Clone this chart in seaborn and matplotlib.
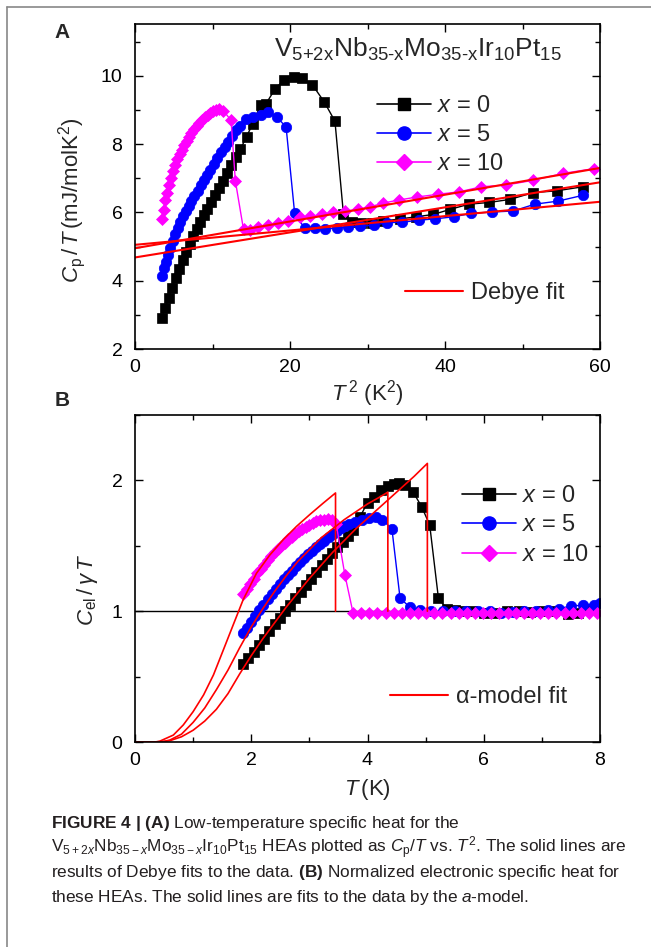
import matplotlib
matplotlib.use("Agg")
import matplotlib.pyplot as plt
import seaborn as sns
import pandas as pd
from matplotlib.lines import Line2D
from matplotlib.ticker import MultipleLocator

# ---------------- Panel A data: Cp/T vs T^2 ----------------
a0_x = [3.44, 3.9, 4.35, 4.8, 5.25, 5.7, 6.15, 6.6, 7.05, 7.5, 7.95, 8.4, 8.85, 9.3, 9.8,
        10.3, 10.8, 11.3, 11.85, 12.4, 13.0, 13.6, 14.4, 15.2, 16.2, 16.9, 18.1, 19.2, 20.5,
        21.6, 22.9, 24.4, 25.8, 26.9, 28.0, 29.2, 30.6, 32.0, 34.2, 36.3, 38.5, 40.7, 43.1,
        45.7, 48.4, 51.4, 54.4, 57.8]
a0_y = [2.90, 3.20, 3.50, 3.80, 4.08, 4.35, 4.60, 4.85, 5.08, 5.30, 5.52, 5.72, 5.92, 6.10, 6.30,
        6.50, 6.72, 6.92, 7.14, 7.38, 7.62, 7.85, 8.22, 8.60, 9.15, 9.18, 9.62, 9.87, 9.97,
        9.92, 9.73, 9.24, 8.67, 5.94, 5.72, 5.68, 5.70, 5.74, 5.81, 5.87, 5.94, 6.09, 6.24,
        6.29, 6.38, 6.58, 6.63, 6.75]

a5_x = [3.46, 3.72, 4.0, 4.28, 4.58, 4.88, 5.2, 5.52, 5.86, 6.2, 6.55, 6.92, 7.29, 7.67, 8.07,
        8.47, 8.88, 9.3, 9.73, 10.18, 10.63, 11.1, 11.56, 12.04, 12.53, 13.03, 13.54, 14.3,
        15.2, 16.2, 17.2, 18.3, 19.5, 20.6, 21.9, 23.2, 24.5, 26.0, 27.5, 29.0, 30.8, 32.5,
        34.4, 36.6, 38.7, 41.1, 43.4, 46.0, 48.8, 51.6, 54.6, 57.8]
a5_y = [4.14, 4.36, 4.56, 4.76, 4.96, 5.16, 5.36, 5.55, 5.73, 5.89, 6.04, 6.19, 6.33, 6.48, 6.63,
        6.80, 6.94, 7.09, 7.24, 7.42, 7.59, 7.76, 7.91, 8.06, 8.24, 8.40, 8.54, 8.72,
        8.80, 8.84, 8.93, 8.80, 8.49, 5.97, 5.53, 5.54, 5.51, 5.54, 5.57, 5.60, 5.62, 5.70,
        5.71, 5.77, 5.81, 5.87, 5.97, 6.01, 6.04, 6.24, 6.33, 6.50]

a10_x = [3.46, 3.68, 3.92, 4.16, 4.41, 4.67, 4.93, 5.2, 5.48, 5.76, 6.05, 6.35, 6.66, 6.97,
         7.29, 7.62, 7.95, 8.29, 8.64, 9.0, 9.36, 9.74, 10.1, 10.5, 10.9, 11.4, 12.4, 12.95,
         14.0, 14.8, 15.9, 17.2, 18.5, 19.8, 21.3, 22.6, 24.1, 25.6, 27.1, 28.8, 30.3, 32.0,
         34.0, 36.4, 39.1, 41.8, 44.7, 47.9, 51.4, 55.2, 59.2]
a10_y = [5.80, 6.08, 6.35, 6.58, 6.80, 7.00, 7.20, 7.38, 7.55, 7.70, 7.84, 7.97, 8.10, 8.21,
         8.32, 8.43, 8.53, 8.62, 8.70, 8.78, 8.85, 8.91, 8.98, 9.00, 9.02, 8.98, 8.69, 6.92,
         5.50, 5.48, 5.56, 5.63, 5.68, 5.76, 5.85, 5.88, 5.94, 6.00, 6.04, 6.09, 6.16, 6.27,
         6.36, 6.45, 6.53, 6.60, 6.75, 6.80, 6.94, 7.14, 7.28]

# Debye fit lines (end points at T^2 = 0 and 60)
debye_x = [0, 60]
debye0_y = [4.68, 6.88]
debye5_y = [5.05, 6.31]
debye10_y = [4.95, 7.30]

# ---------------- Panel B data: Cel/gammaT vs T ----------------
b0_x = [1.86, 1.95, 2.04, 2.13, 2.22, 2.31, 2.40, 2.49, 2.58, 2.67, 2.76, 2.85, 2.94, 3.03,
        3.12, 3.21, 3.30, 3.39, 3.48, 3.57, 3.66, 3.75, 3.87, 4.00, 4.12, 4.24, 4.35, 4.45,
        4.55, 4.65, 4.78, 4.93, 5.07, 5.22, 5.36, 5.50, 5.65, 5.80, 6.00, 6.20, 6.40, 6.60,
        6.80, 7.00, 7.20, 7.45, 7.62, 7.85]
b0_y = [0.60, 0.645, 0.69, 0.74, 0.79, 0.845, 0.90, 0.95, 1.00, 1.05, 1.10, 1.15, 1.20, 1.25,
        1.30, 1.35, 1.40, 1.445, 1.49, 1.53, 1.575, 1.62, 1.72, 1.83, 1.87, 1.93, 1.96, 1.975,
        1.98, 1.965, 1.915, 1.80, 1.66, 1.10, 1.02, 1.01, 1.00, 1.00, 0.99, 0.99, 1.00, 1.00,
        0.995, 1.00, 1.00, 0.98, 0.985, 1.02]

b5_x = [1.86, 1.93, 2.00, 2.07, 2.14, 2.21, 2.28, 2.35, 2.42, 2.49, 2.56, 2.63, 2.70, 2.77,
        2.84, 2.91, 2.98, 3.05, 3.12, 3.19, 3.26, 3.33, 3.40, 3.47, 3.54, 3.61, 3.68, 3.78,
        3.90, 4.02, 4.14, 4.25, 4.42, 4.56, 4.73, 4.90, 5.10, 5.30, 5.50, 5.70, 5.90, 6.10,
        6.30, 6.50, 6.70, 6.90, 7.10, 7.30, 7.50, 7.70, 7.90, 8.00]
b5_y = [0.83, 0.87, 0.92, 0.965, 1.01, 1.05, 1.09, 1.13, 1.17, 1.21, 1.245, 1.28, 1.31, 1.345,
        1.375, 1.405, 1.435, 1.46, 1.49, 1.515, 1.54, 1.565, 1.59, 1.61, 1.635, 1.655, 1.67,
        1.685, 1.70, 1.71, 1.72, 1.70, 1.63, 1.10, 1.03, 1.01, 1.00, 1.00, 1.00, 1.00, 1.00,
        1.00, 0.99, 0.995, 1.00, 1.00, 1.01, 1.02, 1.04, 1.045, 1.05, 1.06]

b10_x = [1.86, 1.92, 1.98, 2.04, 2.10, 2.16, 2.22, 2.28, 2.34, 2.40, 2.46, 2.52, 2.58, 2.64,
         2.70, 2.76, 2.82, 2.88, 2.94, 3.00, 3.06, 3.12, 3.18, 3.25, 3.32, 3.39, 3.46, 3.61,
         3.75, 3.89, 4.03, 4.17, 4.31, 4.45, 4.59, 4.73, 4.87, 5.01, 5.15, 5.29, 5.43, 5.57,
         5.71, 5.85, 5.99, 6.13, 6.27, 6.41, 6.55, 6.69, 6.83, 6.97, 7.11, 7.25, 7.39, 7.53,
         7.67, 7.81, 7.95]
b10_y = [1.13, 1.17, 1.21, 1.25, 1.29, 1.32, 1.355, 1.39, 1.42, 1.45, 1.475, 1.50, 1.525, 1.55,
         1.57, 1.59, 1.61, 1.63, 1.645, 1.66, 1.675, 1.69, 1.70, 1.70, 1.705, 1.70, 1.67, 1.28,
         0.99, 0.99, 0.985, 0.99, 0.99, 0.985, 0.99, 0.99, 0.985, 0.99, 0.99, 0.99, 0.985, 0.99,
         0.99, 0.99, 0.985, 0.99, 0.99, 0.99, 0.99, 0.985, 0.99, 0.99, 0.99, 0.99, 0.99, 0.985,
         0.99, 0.99, 0.985]

# alpha-model fit curves (sampled), ending with the vertical drop at Tc
fit0_x = [0.0, 0.4, 0.6, 0.8, 1.0, 1.2, 1.4, 1.6, 1.8, 2.0, 2.2, 2.4, 2.6, 2.8, 3.0, 3.2, 3.4,
          3.6, 3.8, 4.0, 4.2, 4.4, 4.6, 4.8, 5.03, 5.03]
fit0_y = [0.0, 0.0, 0.01, 0.04, 0.09, 0.16, 0.25, 0.37, 0.52, 0.66, 0.79, 0.91, 1.03, 1.14,
          1.25, 1.35, 1.45, 1.54, 1.63, 1.71, 1.79, 1.87, 1.95, 2.03, 2.13, 1.0]
fit5_x = [0.0, 0.45, 0.6, 0.8, 1.0, 1.2, 1.4, 1.6, 1.8, 2.0, 2.2, 2.4, 2.6, 2.8, 3.0, 3.2, 3.4,
          3.6, 3.8, 4.0, 4.2, 4.35, 4.35]
fit5_y = [0.0, 0.0, 0.015, 0.06, 0.15, 0.26, 0.40, 0.55, 0.72, 0.88, 1.02, 1.15, 1.27, 1.38,
          1.47, 1.56, 1.63, 1.70, 1.76, 1.82, 1.87, 1.91, 1.0]
fit10_x = [0.0, 0.35, 0.43, 0.66, 0.83, 1.0, 1.18, 1.35, 1.52, 1.69, 1.86, 2.09, 2.32, 2.55,
           2.78, 3.01, 3.24, 3.45, 3.45]
fit10_y = [0.0, 0.0, 0.007, 0.053, 0.13, 0.232, 0.36, 0.513, 0.704, 0.896, 1.087, 1.29, 1.43,
           1.547, 1.649, 1.74, 1.827, 1.904, 1.0]

legend_labels = ["$x$ = 0", "$x$ = 5", "$x$ = 10"]
colors = ["black", "#0000FF", "#FF00FF"]
markers = ["s", "o", "D"]
msizes = [6.5, 7.5, 6.0]

# ---------------- styling ----------------
sns.set_theme(style="ticks")
plt.rcParams["font.family"] = ["Liberation Sans", "DejaVu Sans"]
plt.rcParams["mathtext.fontset"] = "custom"
plt.rcParams["mathtext.rm"] = "Liberation Sans"
plt.rcParams["mathtext.it"] = "Liberation Sans:italic"
plt.rcParams["mathtext.bf"] = "Liberation Sans:bold"

fig = plt.figure(figsize=(6.51, 9.47), dpi=100)
W, H = 651.0, 947.0
axA = fig.add_axes([135 / W, 1 - 349 / H, 465 / W, (349 - 24.5) / H])
axB = fig.add_axes([135 / W, 1 - 742 / H, 465 / W, (742 - 415) / H])


def style_axis(ax):
    ax.tick_params(which="both", direction="in", top=True, right=True, width=1.0,
                   labelsize=14, colors="black")
    ax.tick_params(axis="x", pad=7)
    ax.tick_params(axis="y", pad=9)
    ax.tick_params(which="major", length=6)
    ax.tick_params(which="minor", length=3.5)
    for s in ax.spines.values():
        s.set_linewidth(1.2)
        s.set_color("black")


leg_kw = dict(frameon=False, fontsize=17, handlelength=2.3, handletextpad=0.25,
              borderaxespad=0)

# Panel A
seriesA = [(a0_x, a0_y), (a5_x, a5_y), (a10_x, a10_y)]
handles = []
for (xs, ys), c, m, ms, lab in zip(seriesA, colors, markers, msizes, legend_labels):
    df = pd.DataFrame({"x": xs, "y": ys})
    sns.lineplot(data=df, x="x", y="y", ax=axA, color=c, marker=m, markersize=ms,
                 markeredgecolor=c, markeredgewidth=0.5, linewidth=1.0, sort=False,
                 estimator=None, label=None)
    handles.append(Line2D([0], [0], color=c, marker=m, markersize=ms + 2, lw=1.2,
                          markeredgecolor=c, label=lab))
for ys in [debye0_y, debye5_y, debye10_y]:
    sns.lineplot(x=debye_x, y=ys, ax=axA, color="#FF0000", linewidth=1.5, estimator=None,
                 sort=False)

axA.set_xlim(0, 60)
axA.set_ylim(2, 11.5)
axA.xaxis.set_major_locator(MultipleLocator(20))
axA.xaxis.set_minor_locator(MultipleLocator(10))
axA.yaxis.set_major_locator(MultipleLocator(2))
axA.yaxis.set_minor_locator(MultipleLocator(1))
style_axis(axA)
axA.set_xlabel(r"$T^{\,2}$ (K$^2$)", fontsize=16, labelpad=2)
axA.set_ylabel(r"$C_\mathrm{p}\,/\,T\,$(mJ/molK$^2$)", fontsize=16)
axA.yaxis.set_label_coords(-0.1, 0.46)
legA = axA.legend(handles=handles, loc="upper left", bbox_to_anchor=(0.5, 0.812),
                  labelspacing=0.3, **leg_kw)
axA.add_artist(legA)
axA.legend(handles=[Line2D([0], [0], color="#FF0000", lw=1.5, label="Debye fit")],
           loc="upper left", bbox_to_anchor=(0.561, 0.235), frameon=False, fontsize=17,
           handlelength=2.45, handletextpad=0.35, borderaxespad=0)
axA.text(0.298, 0.90,
         r"V$_{\mathrm{5{+}2x}}$Nb$_{\mathrm{35\text{-}x}}$Mo$_{\mathrm{35\text{-}x}}$Ir$_{\mathrm{10}}$Pt$_{\mathrm{15}}$",
         transform=axA.transAxes, fontsize=19, ha="left", va="baseline")

# Panel B
seriesB = [(b0_x, b0_y), (b5_x, b5_y), (b10_x, b10_y)]
for (xs, ys), c, m, ms in zip(seriesB, colors, markers, msizes):
    df = pd.DataFrame({"x": xs, "y": ys})
    sns.lineplot(data=df, x="x", y="y", ax=axB, color=c, marker=m, markersize=ms,
                 markeredgecolor=c, markeredgewidth=0.5, linewidth=1.0, sort=False,
                 estimator=None)
axB.axhline(1.0, color="black", lw=1.0, zorder=1)
for fx, fy in [(fit0_x, fit0_y), (fit5_x, fit5_y), (fit10_x, fit10_y)]:
    sns.lineplot(x=fx, y=fy, ax=axB, color="#FF0000", linewidth=1.2, sort=False,
                 estimator=None)

axB.set_xlim(0, 8)
axB.set_ylim(0, 2.5)
axB.xaxis.set_major_locator(MultipleLocator(2))
axB.xaxis.set_minor_locator(MultipleLocator(1))
axB.yaxis.set_major_locator(MultipleLocator(1))
axB.yaxis.set_minor_locator(MultipleLocator(0.5))
style_axis(axB)
axB.set_xlabel(r"$T\,$(K)", fontsize=16, labelpad=6)
axB.set_ylabel(r"$C_\mathrm{el}\,/\,\gamma\, T$", fontsize=16)
axB.yaxis.set_label_coords(-0.075, 0.465)
legB = axB.legend(handles=handles, loc="upper left", bbox_to_anchor=(0.683, 0.815),
                  labelspacing=0.32, **leg_kw)
axB.add_artist(legB)
axB.legend(handles=[Line2D([0], [0], color="#FF0000", lw=1.5, label="\u03b1-model fit")],
           loc="upper left", bbox_to_anchor=(0.528, 0.2), frameon=False, fontsize=17,
           handlelength=2.45, handletextpad=0.35, borderaxespad=0)

# panel letters
fig.text(62 / W, 1 - 33 / H, "A", fontsize=15, fontweight="bold", ha="center", va="center")
fig.text(62 / W, 1 - 400 / H, "B", fontsize=15, fontweight="bold", ha="center", va="center")

# caption
cap = [
    r"$\mathbf{FIGURE\ 4\ |\ (A)}$ Low-temperature specific heat for the",
    r"V$_{5+2x}$Nb$_{35-x}$Mo$_{35-x}$Ir$_{10}$Pt$_{15}$ HEAs plotted as $C_\mathrm{p}$/$T$ vs. $T^2$. The solid lines are",
    r"results of Debye fits to the data. $\mathbf{(B)}$ Normalized electronic specific heat for",
    r"these HEAs. The solid lines are fits to the data by the $a$-model.",
]
for i, line in enumerate(cap):
    fig.text(51 / W, 1 - (823 + 24.8 * i) / H, line, fontsize=12.4, ha="left", va="center",
             color="#231f20")

# figure frame (top and left edges)
fig.add_artist(Line2D([7 / W, 7 / W], [0, 1 - 7 / H], color="#888888", lw=1.2,
                      transform=fig.transFigure))
fig.add_artist(Line2D([7 / W, 1], [1 - 7 / H, 1 - 7 / H], color="#888888", lw=1.2,
                      transform=fig.transFigure))

fig.savefig("out.png", dpi=100)
